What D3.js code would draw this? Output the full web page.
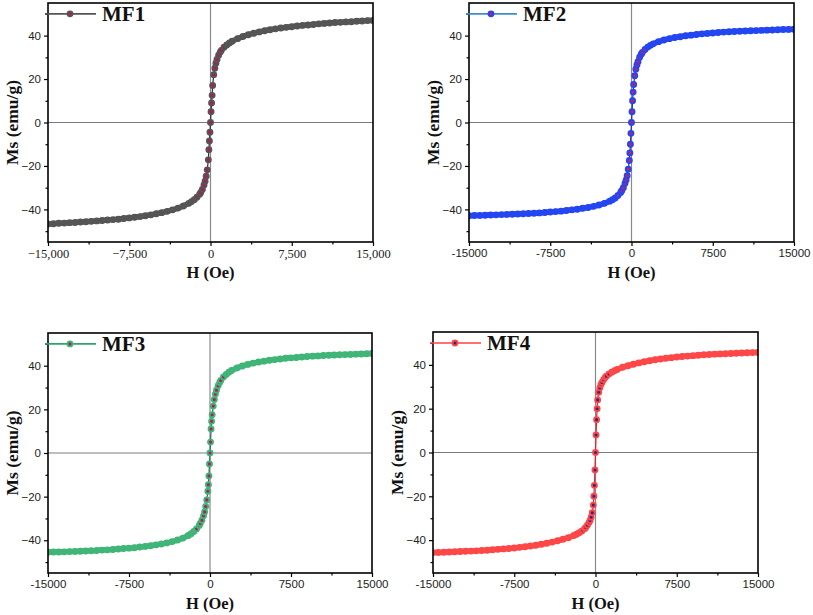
<!DOCTYPE html>
<html><head><meta charset="utf-8">
<script src="https://cdn.jsdelivr.net/npm/d3@7"></script>
<style>body{margin:0;background:#fff} svg{display:block}</style>
</head><body><svg id="c" width="813" height="615"></svg>
<script>
// ---- data ----
const fieldOe = [-15000,-14500,-14000,-13500,-13000,-12500,-12000,-11500,-11000,-10500,-10000,-9500,-9000,-8500,-8000,-7500,-7000,-6500,-6000,-5500,-5000,-4500,-4000,-3500,-3000,-2500,-2000,-1750,-1500,-1250,-1000,-900,-750,-600,-500,-400,-300,-200,-150,-100,-50,
0,
50,100,150,200,300,400,500,600,750,900,1000,1250,1500,1750,2000,2500,3000,3500,4000,4500,5000,5500,6000,6500,7000,7500,8000,8500,9000,9500,10000,10500,11000,11500,12000,12500,13000,13500,14000,14500,15000];

const msMF1 = [-46.7,-46.6,-46.4,-46.3,-46.1,-46.0,-45.8,-45.7,-45.5,-45.3,-45.1,-44.9,-44.7,-44.5,-44.2,-43.9,-43.6,-43.3,-42.9,-42.5,-42.0,-41.5,-40.9,-40.2,-39.4,-38.4,-37.2,-36.4,-35.5,-34.4,-33.0,-32.2,-30.8,-28.8,-27.0,-24.7,-21.8,-17.2,-12.5,-8.5,-4.5,
0,
5,9,12.5,17,22,25,27.3,29,31,32.4,33.2,34.6,35.7,36.6,37.4,38.6,39.6,40.4,41.1,41.7,42.2,42.7,43.1,43.5,43.8,44.1,44.4,44.7,44.9,45.1,45.4,45.6,45.8,46.0,46.1,46.3,46.4,46.6,46.7,46.9,47.0];

const msMF2 = [-42.9,-42.8,-42.75,-42.7,-42.6,-42.5,-42.4,-42.3,-42.2,-42.1,-42.0,-41.9,-41.8,-41.6,-41.4,-41.2,-41.0,-40.8,-40.5,-40.2,-39.9,-39.5,-39.1,-38.6,-38.0,-37.2,-36.2,-35.5,-34.7,-33.6,-32.2,-31.4,-30.0,-28.0,-26.5,-24.5,-21.5,-17.5,-14.0,-10.0,-5.0,
0,
5,10,14,17.5,21.5,24.5,26.5,28,30,31.4,32.2,33.6,34.7,35.5,36.2,37.2,38.0,38.6,39.1,39.5,39.9,40.2,40.5,40.8,41.0,41.2,41.4,41.6,41.8,41.9,42.0,42.1,42.2,42.3,42.4,42.5,42.6,42.7,42.8,42.85,42.9];

const msMF3 = [-45.5,-45.4,-45.4,-45.3,-45.2,-45.1,-45.0,-44.9,-44.8,-44.7,-44.5,-44.4,-44.2,-44.0,-43.8,-43.6,-43.4,-43.1,-42.8,-42.5,-42.1,-41.7,-41.2,-40.6,-39.9,-39.0,-37.8,-37.0,-36.0,-34.8,-33.2,-32.3,-30.8,-28.8,-27.0,-24.5,-21.5,-17.5,-14.5,-10.5,-5.0,
0,
5,11,14.5,17.5,21.5,24.5,27,28.8,30.8,32.3,33.2,34.8,36,37,37.8,39,39.9,40.6,41.2,41.7,42.1,42.5,42.8,43.1,43.4,43.6,43.8,44.0,44.2,44.4,44.5,44.7,44.8,44.9,45.0,45.1,45.2,45.3,45.4,45.5,45.6];

const msMF4 = [-45.7,-45.6,-45.5,-45.4,-45.3,-45.2,-45.1,-45.0,-44.9,-44.7,-44.6,-44.4,-44.2,-44.0,-43.8,-43.6,-43.3,-43.0,-42.7,-42.3,-41.9,-41.4,-40.9,-40.3,-39.6,-38.9,-37.9,-37.3,-36.6,-35.8,-34.8,-34.2,-33.2,-32.0,-31.0,-29.5,-27.5,-24.0,-20.0,-15.0,-8.0,
0,
8,15,20,24,27.5,29.5,31,32,33.2,34.2,34.8,35.8,36.6,37.3,37.9,38.9,39.6,40.3,40.9,41.4,41.9,42.3,42.7,43.0,43.3,43.6,43.8,44.0,44.2,44.4,44.6,44.7,44.9,45.0,45.1,45.2,45.3,45.4,45.5,45.6,45.7];

const seriesNames = ["MF1","MF2","MF3","MF4"];
const xTickValues = [-15000,-7500,0,7500,15000];
const xMinorTicks = [-11250,-3750,3750,11250];
const xTickLabelsComma = ["\u221215,000","\u22127,500","0","7,500","15,000"];
const xTickLabelsPlain = ["-15000","-7500","0","7500","15000"];
const yTickValues = [-40,-20,0,20,40];
const yTickLabels = ["\u221240","\u221220","0","20","40"];
const yMinorTicks = [-50,-30,-10,10,30,50];
const xTitle = "H (Oe)";
const yTitle = "Ms (emu/g)";

// ---- layout / style ----
const panels = [
  {name:seriesNames[0], ms:msMF1, L:48, R:373, T:3,   B:242, xLabels:xTickLabelsComma, serifX:true,
   edge:"#555555", fill:"#b3175a", line:"#2e2e2e", legLine:"#555555"},
  {name:seriesNames[1], ms:msMF2, L:469,R:794, T:3,   B:242, xLabels:xTickLabelsPlain, serifX:false,
   edge:"#2346f2", fill:"#c01f6a", line:"#1b2fa0", legLine:"#3f8cc6"},
  {name:seriesNames[2], ms:msMF3, L:48, R:372, T:333, B:573, xLabels:xTickLabelsPlain, serifX:false,
   edge:"#3fb577", fill:"#b8195c", line:"#156e6e", legLine:"#2aa56e"},
  {name:seriesNames[3], ms:msMF4, L:433,R:758, T:332, B:573, xLabels:xTickLabelsPlain, serifX:false,
   edge:"#ff4747", fill:"#3a2486", line:"#e02020", legLine:"#ff4040"}
];

const svg = d3.select("#c");
const SANS = "'Liberation Sans', Arial, sans-serif";
const SERIF = "'Liberation Serif', 'Times New Roman', serif";

panels.forEach((p, i) => {
  const x = d3.scaleLinear().domain([-15000, 15000]).range([p.L, p.R]);
  const y = d3.scaleLinear().domain([-55, 55]).range([p.B, p.T]);
  const g = svg.append("g");
  const clipId = "clip" + i;
  g.append("clipPath").attr("id", clipId).append("rect")
    .attr("x", p.L).attr("y", p.T).attr("width", p.R - p.L).attr("height", p.B - p.T);

  // zero lines
  g.append("line").attr("x1", p.L).attr("x2", p.R).attr("y1", y(0)).attr("y2", y(0))
    .attr("stroke", "#7a7a88").attr("stroke-width", 1);
  g.append("line").attr("x1", x(0)).attr("x2", x(0)).attr("y1", p.T).attr("y2", p.B)
    .attr("stroke", "#8a8a8a").attr("stroke-width", 1.2);

  const pts = fieldOe.map((h, k) => [h, p.ms[k]]);
  const plot = g.append("g").attr("clip-path", `url(#${clipId})`);
  const lineGen = d3.line().x(d => x(d[0])).y(d => y(d[1]));
  plot.append("path").datum(pts)
    .attr("d", lineGen)
    .attr("fill", "none").attr("stroke", p.line).attr("stroke-width", 1.2);
  plot.selectAll("circle").data(pts).join("circle")
    .attr("cx", d => x(d[0])).attr("cy", d => y(d[1])).attr("r", 2.5)
    .attr("fill", p.fill).attr("stroke", p.edge).attr("stroke-width", 1.9);
  // solid band formed by the densely overlapping markers at high field
  plot.append("path").datum(pts)
    .attr("d", d3.line().defined(d => Math.abs(d[0]) >= 1500).x(d => x(d[0])).y(d => y(d[1])))
    .attr("fill", "none").attr("stroke", p.edge)
    .attr("stroke-width", 5.5).attr("stroke-linejoin", "round").attr("stroke-linecap", "round");

  // axes
  const yAxis = d3.axisLeft(y).tickValues(yTickValues).tickSize(4).tickPadding(3)
    .tickFormat((d, k) => yTickLabels[k]);
  const ya = g.append("g").attr("transform", `translate(${p.L},0)`).call(yAxis);
  ya.select(".domain").remove();
  ya.selectAll("text").attr("font-family", SANS).attr("font-size", 11.5).attr("fill", "#222");
  ya.selectAll("line").attr("stroke", "#000").attr("stroke-width", 1.2);
  const yMin = g.append("g").attr("transform", `translate(${p.L},0)`)
    .call(d3.axisLeft(y).tickValues(yMinorTicks).tickSize(2.5).tickFormat(""));
  yMin.select(".domain").remove();
  yMin.selectAll("line").attr("stroke", "#000").attr("stroke-width", 1.2);

  const xAxis = d3.axisBottom(x).tickValues(xTickValues).tickSize(4).tickPadding(3)
    .tickFormat((d, k) => p.xLabels[k]);
  const xa = g.append("g").attr("transform", `translate(0,${p.B})`).call(xAxis);
  xa.select(".domain").remove();
  xa.selectAll("text").attr("font-family", p.serifX ? SERIF : SANS)
    .attr("font-size", p.serifX ? 12.5 : 11.5).attr("fill", "#222");
  xa.selectAll("line").attr("stroke", "#000").attr("stroke-width", 1.2);
  const xMin = g.append("g").attr("transform", `translate(0,${p.B})`)
    .call(d3.axisBottom(x).tickValues(xMinorTicks).tickSize(2.5).tickFormat(""));
  xMin.select(".domain").remove();
  xMin.selectAll("line").attr("stroke", "#000").attr("stroke-width", 1.2);

  // frame
  g.append("rect").attr("x", p.L).attr("y", p.T).attr("width", p.R - p.L).attr("height", p.B - p.T)
    .attr("fill", "none").attr("stroke", "#000").attr("stroke-width", 1.6);

  // titles
  g.append("text").attr("x", (p.L + p.R) / 2).attr("y", p.B + 36)
    .attr("text-anchor", "middle").attr("font-family", SERIF).attr("font-weight", "bold")
    .attr("font-size", 16.5).attr("fill", "#111").text(xTitle);
  g.append("text").attr("transform", `translate(${p.L - 36},${(p.T + p.B) / 2}) rotate(-90)`)
    .attr("text-anchor", "middle").attr("dominant-baseline", "central")
    .attr("font-family", SERIF).attr("font-weight", "bold")
    .attr("font-size", 17.5).attr("fill", "#111").text(yTitle);

  // legend
  const ly = y(50);
  g.append("line").attr("x1", p.L - 3).attr("x2", p.L + 48).attr("y1", ly).attr("y2", ly)
    .attr("stroke", p.legLine).attr("stroke-width", 1.6);
  g.append("circle").attr("cx", p.L + 22).attr("cy", ly).attr("r", 2.5)
    .attr("fill", p.fill).attr("stroke", p.edge).attr("stroke-width", 1.9);
  g.append("text").attr("x", p.L + 54).attr("y", ly + 7)
    .attr("font-family", SERIF).attr("font-weight", "bold").attr("font-size", 21)
    .attr("fill", "#111").text(p.name);
});
</script></body></html>
